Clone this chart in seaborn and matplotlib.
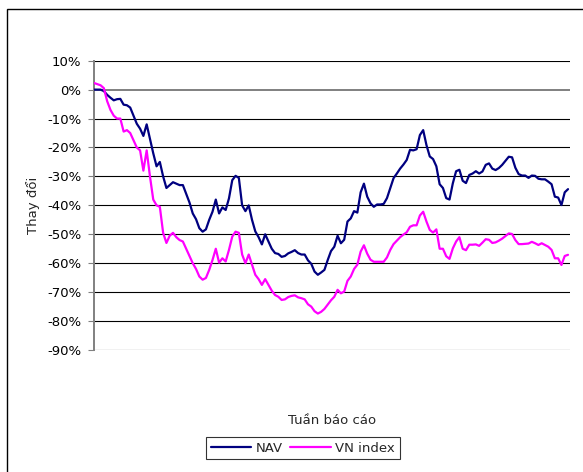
import matplotlib
matplotlib.use("Agg")
import matplotlib.pyplot as plt
import matplotlib.patches as mpatches
import pandas as pd
import seaborn as sns

# % change, one value per reporting week
nav = [
    0, 0, 0, -0.5, -1.8, -2.8, -3.7, -3.3, -3.2, -5.2,
    -5.4, -6.2, -9, -11.8, -13.5, -16, -12, -17, -22, -26.5,
    -25, -30, -34, -33, -32, -32.5, -33, -33, -36,
    -39, -42.8, -44.8, -47.9, -49.1, -48.3, -45, -42.2, -38, -42.8,
    -40.7, -41.6, -37.6, -31.3, -29.8, -30.5, -40, -42, -40, -45,
    -49, -51, -53.5, -50, -52.5, -55, -56.5, -56.8, -57.8,
    -57.5, -56.6, -56.1, -55.5, -56.5, -57, -57, -59, -60.2, -62.9,
    -64, -63.2, -62.3, -58.9, -55.8, -54.3, -50.5, -53.1, -51.9, -45.6,
    -44.5, -42, -42.5, -35.5, -32.5, -37, -39.3, -40.5, -39.7,
    -39.7, -39.5, -37.5, -34, -30.6, -29, -27.3, -25.9, -24.3, -20.8,
    -21, -20.6, -15.7, -14, -19.2, -23.1, -24, -26.5, -32.7, -34,
    -37.5, -38, -32.4, -28.2, -27.7, -31.5, -32.3, -29.5, -29,
    -28.2, -29, -28.3, -26, -25.5, -27.3, -27.8, -27.1, -26, -24.6,
    -23.2, -23.4, -27, -29.2, -29.7, -29.7, -30.5, -29.7, -29.8, -30.8,
    -31, -31, -31.8, -32.7, -37, -37.3, -39.9, -35.5, -34.4,
]
vn_index = [
    2.3, 1.9, 1.5, 0.5, -4, -7, -9, -10, -10, -14.5,
    -14, -15, -17.5, -20, -21, -28, -21, -30, -38, -40,
    -40.5, -49.5, -53, -50.5, -49.5, -51, -52, -52.5, -55,
    -57.5, -60, -62, -64.6, -65.7, -65.1, -62.3, -58.9, -55, -59.8,
    -58.3, -59.4, -55.4, -50.8, -49.1, -49.5, -57, -60, -57, -60.5,
    -64, -65.5, -67.5, -65.5, -67.5, -69.5, -71, -71.6, -72.7,
    -72.5, -71.7, -71.3, -71.1, -71.8, -72.1, -72.5, -74.2, -75, -76.6,
    -77.4, -76.8, -75.8, -74.3, -72.8, -71.6, -69.2, -70.4, -69.8, -66.1,
    -64.6, -62, -60.5, -56, -53.8, -56.7, -58.8, -59.5, -59.5,
    -59.5, -59.5, -58, -55.4, -53.4, -52.2, -51, -50.1, -49.3, -47.4,
    -46.9, -46.9, -43.5, -42.2, -45.6, -48.5, -49.4, -48.3, -55, -55,
    -57.6, -58.5, -54.9, -52.5, -51, -55, -55.5, -53.6, -53.6,
    -53.5, -54, -52.9, -51.7, -51.9, -53, -52.8, -52.2, -51.5, -50.6,
    -49.7, -49.9, -52, -53.4, -53.4, -53.3, -53.2, -52.6, -53.1, -53.7,
    -53.1, -53.7, -54.3, -55.4, -58.3, -58.3, -60.6, -57.5, -57.1,
]
weeks = list(range(len(nav)))
series_names = ["NAV", "VN index"]
series_colors = ["#000080", "#FF00FF"]
y_ticks = list(range(10, -100, -10))
y_tick_labels = [f"{v}%" for v in y_ticks]

df = pd.DataFrame({
    "week": weeks + weeks,
    "value": nav + vn_index,
    "series": [series_names[0]] * len(nav) + [series_names[1]] * len(vn_index),
})

sns.set_style("white")
plt.rcParams["font.family"] = ["DejaVu Sans"]

W, H = 583, 472
fig = plt.figure(figsize=(W / 100, H / 100), dpi=100)
ax = fig.add_axes([94 / W, 1 - 350 / H, (570 - 94) / W, (350 - 60.7) / H])

sns.lineplot(data=df, x="week", y="value", hue="series", palette=series_colors,
             hue_order=series_names, linewidth=1.6, ax=ax, legend=False, zorder=3)

ax.set_xlim(0, len(nav) - 1 + 0.6)
ax.set_ylim(-90, 10)
ax.set_yticks(y_ticks)
ax.set_yticklabels(y_tick_labels, fontsize=9.5, color="black")
ax.set_xticks([])
ax.tick_params(axis="y", direction="out", length=4, width=0.8, color="#808080",
               pad=5, left=True)

for v in y_ticks:
    if v != 0:
        ax.axhline(v, color="black", linewidth=0.8, zorder=1)
ax.axhline(0, color="#808080", linewidth=1.4, zorder=2)

for s in ["top", "right", "bottom"]:
    ax.spines[s].set_visible(False)
ax.spines["left"].set_color("#808080")
ax.spines["left"].set_linewidth(1.4)

ax.set_ylabel("Thay đổi", fontsize=9.5, labelpad=5)
ax.set_xlabel("Tuần báo cáo", fontsize=9.5, labelpad=46)

handles = [plt.Line2D([], [], color=c, linewidth=1.6) for c in series_colors]
leg = ax.legend(handles, series_names, loc="center",
                bbox_to_anchor=(302.8 / W, 1 - 448 / H), bbox_transform=fig.transFigure,
                ncol=2, frameon=True, fancybox=False, edgecolor="black",
                fontsize=9.5, handlelength=3.1, handletextpad=0.3,
                columnspacing=0.6, borderpad=0.35, borderaxespad=0)
leg.get_frame().set_linewidth(0.8)

# chart area border (cut off at right and bottom in the reference)
fig.patches.append(mpatches.Rectangle((7 / W, -0.1), 1.2, 1 - 9 / H + 0.1,
                                      transform=fig.transFigure, fill=False,
                                      edgecolor="black", linewidth=1))

fig.savefig("out.png", dpi=100)
